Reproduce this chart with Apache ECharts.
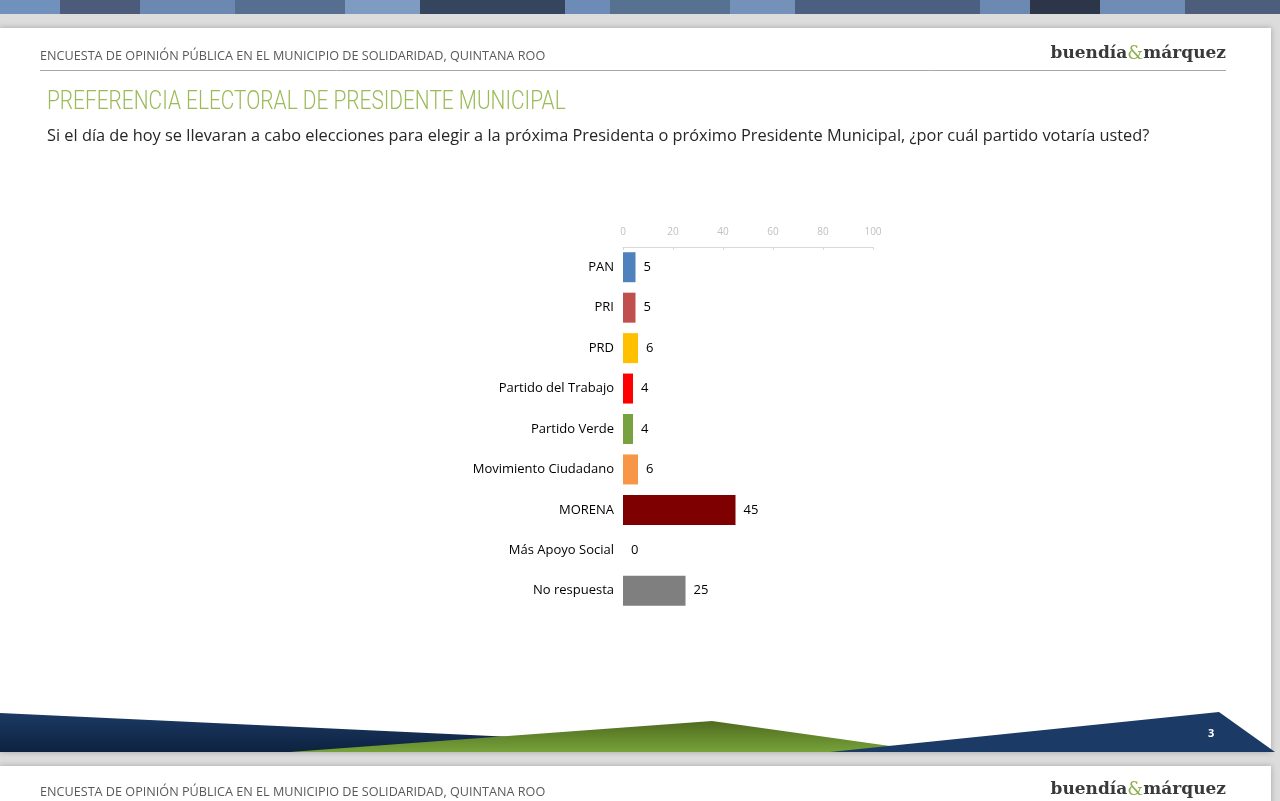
<!DOCTYPE html>
<html>
<head>
<meta charset="utf-8">
<script src="https://cdn.jsdelivr.net/npm/echarts@6/dist/echarts.min.js"></script>
<style>
  html, body { margin: 0; padding: 0; background: #dcdcdc; }
  #main { width: 1280px; height: 801px; }
</style>
</head>
<body>
<div id="main"></div>
<script>
// datos de la gráfica
var categorias = ['PAN', 'PRI', 'PRD', 'Partido del Trabajo', 'Partido Verde',
                  'Movimiento Ciudadano', 'MORENA', 'Más Apoyo Social', 'No respuesta'];
var valores = [5, 5, 6, 4, 4, 6, 45, 0, 25];
var ticksEje = [0, 20, 40, 60, 80, 100];

// colores de cada partido
var coloresBarra = ['#4f81bd', '#c0504d', '#ffc000', '#ff0000', '#77a23f',
                    '#f79646', '#7f0000', '#a5a5a5', '#7f7f7f'];

var myChart = echarts.init(document.getElementById('main'));

// franja superior (decoración de la diapositiva)
var franja = [
    [0, 60, '#7091bb'], [60, 80, '#4b5b79'], [140, 95, '#6b88b1'], [235, 110, '#566e90'],
    [345, 75, '#7e9bc1'], [420, 145, '#35455d'], [565, 45, '#6c8bb6'], [610, 120, '#577190'],
    [730, 65, '#7491b9'], [795, 185, '#4b6081'], [980, 50, '#6b89b1'], [1030, 70, '#2d3649'],
    [1100, 85, '#6e8cb4'], [1185, 95, '#4c5e7b']
];
var graficos = franja.map(function (f) {
    return { type: 'rect', shape: { x: f[0], y: 0, width: f[1], height: 14 }, style: { fill: f[2] }, silent: true };
});

var encabezado = 'ENCUESTA DE OPINIÓN PÚBLICA EN EL MUNICIPIO DE SOLIDARIDAD, QUINTANA ROO';
var logo = {
    text: '{a|buendía}{b|&}{a|márquez}',
    rich: {
        a: { font: 'bold 17px "DejaVu Serif"', fill: '#3a3a3a' },
        b: { font: '18px "DejaVu Serif"', fill: '#8fb14f' }
    }
};

graficos = graficos.concat([
    // diapositiva blanca
    { type: 'rect', shape: { x: 0, y: 28, width: 1271, height: 724 },
      style: { fill: '#fff', shadowBlur: 6, shadowColor: 'rgba(0,0,0,0.25)' }, z: -1 },
    { type: 'rect', shape: { x: 0, y: 766, width: 1271, height: 40 },
      style: { fill: '#fff', shadowBlur: 6, shadowColor: 'rgba(0,0,0,0.25)' }, z: -1 },
    // encabezado
    { type: 'text', x: 40, y: 50, scaleX: 0.95, style: { text: encabezado, fill: '#595959', font: '13.3px "Open Sans"' } },
    { type: 'line', shape: { x1: 40, y1: 70.5, x2: 1226, y2: 70.5 }, style: { stroke: '#a6a6a6', lineWidth: 1 } },
    { type: 'text', right: 54, top: 45, style: logo },
    // título y pregunta
    { type: 'text', x: 47, y: 90, scaleX: 0.835, style: { text: 'PREFERENCIA ELECTORAL DE PRESIDENTE MUNICIPAL',
      fill: '#9bbb59', font: '300 25px Roboto' } },
    { type: 'text', x: 47, y: 128, style: {
      text: 'Si el día de hoy se llevaran a cabo elecciones para elegir a la próxima Presidenta o próximo Presidente Municipal, ¿por cuál partido votaría usted?',
      fill: '#262626', font: '16.35px "Open Sans"' } },
    // decoración inferior
    { type: 'polygon', shape: { points: [[0, 713], [620, 742], [620, 752], [0, 752]] },
      style: { fill: new echarts.graphic.LinearGradient(0, 0, 0, 1, [{ offset: 0, color: '#1c3a64' }, { offset: 1, color: '#0d2240' }]) } },
    { type: 'polygon', shape: { points: [[290, 752], [712, 721], [890, 746], [900, 752]] },
      style: { fill: new echarts.graphic.LinearGradient(0, 0, 0, 1, [{ offset: 0, color: '#4f6b1f' }, { offset: 1, color: '#77a23a' }]) } },
    { type: 'polygon', shape: { points: [[830, 752], [1219, 712], [1275, 752]] },
      style: { fill: '#1c3a66' } },
    { type: 'text', x: 1208, y: 728, style: { text: '3', fill: '#fff', font: 'bold 11px "Open Sans"' } },
    // siguiente diapositiva
    { type: 'text', x: 40, y: 786, scaleX: 0.95, style: { text: encabezado, fill: '#595959', font: '13.3px "Open Sans"' } },
    { type: 'text', right: 54, top: 781, style: logo }
]);

var option = {
    animation: false,
    textStyle: { fontFamily: 'Open Sans' },
    graphic: graficos,
    grid: { left: 623, top: 247, width: 250, height: 364 },
    xAxis: {
        type: 'value',
        position: 'top',
        min: ticksEje[0],
        max: ticksEje[ticksEje.length - 1],
        interval: ticksEje[1] - ticksEje[0],
        splitLine: { show: false },
        axisLine: { show: true, lineStyle: { color: '#d9d9d9' } },
        axisTick: { show: true, inside: true, length: 3, lineStyle: { color: '#d9d9d9' } },
        axisLabel: { color: '#bfbfbf', fontSize: 10, margin: 10 }
    },
    yAxis: {
        type: 'category',
        inverse: true,
        data: categorias,
        axisLine: { show: false },
        axisTick: { show: false },
        axisLabel: { color: '#000', fontSize: 13, margin: 9 }
    },
    series: [
        {
            name: 'Preferencia',
            type: 'bar',
            barWidth: 30,
            data: valores.map(function (v, i) {
                return { value: v, itemStyle: { color: coloresBarra[i] } };
            }),
            label: { show: true, position: 'right', distance: 8, color: '#000', fontSize: 13 }
        }
    ]
};

myChart.setOption(option);
</script>
</body>
</html>
